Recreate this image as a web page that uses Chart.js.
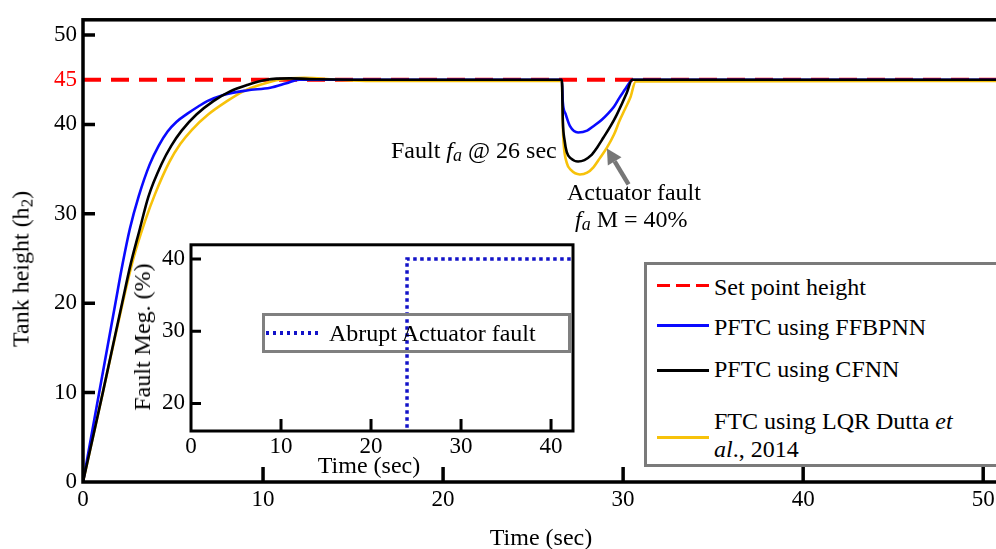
<!DOCTYPE html>
<html>
<head>
<meta charset="utf-8">
<script src="https://cdn.jsdelivr.net/npm/chart.js@4.4.0/dist/chart.umd.min.js"></script>
<style>
  html, body { margin: 0; padding: 0; background: #fff; overflow: hidden; }
  #wrap { position: relative; width: 996px; height: 549px; overflow: hidden; font-family: 'Liberation Serif', 'Times New Roman', serif; }
  canvas { position: absolute; }
  #main { left: 0; top: 0; }
  #inset { left: 120px; top: 225px; }
  .t { position: absolute; font-size: 24px; line-height: 24px; white-space: nowrap; color: #000; }
  .it { font-style: italic; }
  .sb { font-size: 18px; position: relative; top: 3px; font-style: italic; }
  .box { position: absolute; box-sizing: border-box; }
  .smp { position: absolute; height: 3px; }
</style>
</head>
<body>
<div id="wrap">
  <canvas id="main" width="1010" height="549"></canvas>
  <canvas id="inset" width="470" height="250"></canvas>

  <!-- axis titles -->
  <div class="t" style="left:22px; top:269px; transform: translate(-50%,-50%) rotate(-90deg);">Tank height (h<span style="font-size:17px; position:relative; top:4px;">2</span>)</div>
  <div class="t" style="left:541px; top:537px; transform: translate(-50%,-50%);">Time (sec)</div>
  <div class="t" style="left:142px; top:337px; transform: translate(-50%,-50%) rotate(-90deg);">Fault Meg. (%)</div>
  <div class="t" style="left:369px; top:465px; transform: translate(-50%,-50%);">Time (sec)</div>

  <!-- annotations -->
  <div class="t" style="left:391px; top:138px;">Fault <span class="it">f</span><span class="sb">a</span> @ 26 sec</div>
  <div class="t" style="left:567px; top:180px;">Actuator fault</div>
  <div class="t" style="left:575px; top:207px;"><span class="it">f</span><span class="sb">a</span> M = 40%</div>

  <!-- inset legend -->
  <div class="box" style="left:262px; top:313px; width:309px; height:40px; border:3px solid #808080;"></div>
  <div class="smp" style="left:266px; top:331px; width:54px; height:3.5px; background: repeating-linear-gradient(to right, #1212c8 0 3.5px, transparent 3.5px 7px);"></div>
  <div class="t" style="left:329px; top:321px;">Abrupt Actuator fault</div>

  <!-- main legend -->
  <div class="box" style="left:644px; top:262px; width:400px; height:205px; border:3px solid #7a7a7a; background:#fff;"></div>
  <div class="smp" style="left:657px; top:284px; width:52px; background: repeating-linear-gradient(to right, #ff0000 0 13px, transparent 13px 19.5px);"></div>
  <div class="t" style="left:714px; top:275px;">Set point height</div>
  <div class="smp" style="left:657px; top:324px; width:52px; background:#0a0aff;"></div>
  <div class="t" style="left:714px; top:315px;">PFTC using FFBPNN</div>
  <div class="smp" style="left:657px; top:369px; width:52px; background:#000;"></div>
  <div class="t" style="left:714px; top:357px;">PFTC using CFNN</div>
  <div class="smp" style="left:657px; top:436px; width:52px; background:#f7c20a;"></div>
  <div class="t" style="left:714px; top:409px;">FTC using LQR Dutta <span class="it">et</span></div>
  <div class="t" style="left:714px; top:437px;"><span class="it">al</span>., 2014</div>
</div>

<script>
// main plot: tank height h2 vs time
const xTicks = [0, 10, 20, 30, 40, 50];
const yTicks = [0, 10, 20, 30, 40, 45, 50];

const setTime = [0, 51.1];
const setHeight = [45, 45];

const ffbpnnTime = [0, 0.9, 1.8, 2.2, 2.6, 3.1, 3.7, 4.2, 4.7, 5.2, 5.8, 6.4, 6.9, 7.8, 9.1, 10.4, 11.3, 12.0,
  26.6, 26.65, 26.8, 27.05, 27.5, 28.0, 28.35, 28.8, 29.2, 29.5, 29.8, 30.1, 30.4, 30.5, 51.1];
const ffbpnnHeight = [0, 10, 20, 24.4, 28.3, 32.0, 35.5, 37.6, 39.2, 40.3, 41.2, 42.0, 42.6, 43.3, 43.8, 44.1, 44.6, 45,
  45, 42.5, 41.2, 39.8, 39.1, 39.3, 39.8, 40.5, 41.3, 42.0, 43.0, 43.9, 44.8, 45, 45];

const cfnnTime = [0, 1.1, 2.17, 2.65, 3.13, 3.63, 4.37, 4.9, 5.48, 6.3, 7.24, 8.17, 9.1, 10.2, 11.5, 13, 15,
  26.6, 26.65, 26.75, 26.87, 27.1, 27.5, 27.85, 28.2, 28.55, 28.9, 29.3, 29.65, 30.2, 30.5, 51.1];
const cfnnHeight = [0, 10, 20, 24.4, 28.1, 31.9, 35.6, 37.6, 39.3, 41.1, 42.6, 43.7, 44.4, 45.0, 45.15, 45.05, 45,
  45, 40.5, 38.2, 36.9, 36.2, 35.85, 36.0, 36.5, 37.4, 38.5, 39.8, 41.1, 43.5, 45, 45];

const lqrTime = [0, 1.1, 2.2, 2.8, 3.45, 4.0, 4.8, 5.4, 6.05, 6.95, 8.0, 8.9, 9.8, 10.9, 12.3, 14, 16,
  26.6, 26.65, 26.7, 26.87, 27.1, 27.6, 28.0, 28.35, 28.7, 29.1, 29.5, 29.8, 30.1, 30.4, 30.7, 51.1];
const lqrHeight = [0, 10, 20, 25.0, 29.2, 32.2, 35.8, 37.8, 39.4, 41.1, 42.6, 43.7, 44.4, 45.0, 45.2, 45.0, 44.85,
  44.85, 40.0, 37.8, 35.7, 34.9, 34.4, 34.6, 35.2, 36.2, 37.4, 38.9, 40.4, 41.7, 43.0, 44.8, 44.85];

// inset: fault magnitude
const insetXTicks = [0, 10, 20, 30, 40];
const insetYTicks = [20, 30, 40];
const faultTime = [0, 24, 24, 43];
const faultMag = [0, 0, 40, 40];

// arrow pointing at the dip (data coords)
const arrowFrom = [30.3, 33.3];
const arrowTo = [29.1, 37.3];

const pts = (xs, ys) => xs.map((x, i) => ({ x: x, y: ys[i] }));
const serif = "'Liberation Serif', 'Times New Roman', serif";
const tickFont = { family: serif, size: 23 };
Chart.defaults.font.family = serif;

// box + inward tick marks
const frame = {
  id: 'frame',
  afterDatasetsDraw(chart, args, o) {
    const { ctx, chartArea: a, scales: { x, y } } = chart;
    ctx.save();
    ctx.strokeStyle = '#000';
    ctx.lineWidth = o.width;
    ctx.lineCap = 'square';
    ctx.strokeRect(a.left, a.top, a.right - a.left, a.bottom - a.top);
    ctx.beginPath();
    o.xMarks.forEach(v => {
      const px = x.getPixelForValue(v);
      ctx.moveTo(px, a.bottom);
      ctx.lineTo(px, a.bottom - o.xLen);
    });
    o.yMarks.forEach(v => {
      const py = y.getPixelForValue(v);
      ctx.moveTo(a.left, py);
      ctx.lineTo(a.left + o.yLen, py);
    });
    ctx.lineCap = 'butt';
    ctx.stroke();
    ctx.restore();
  }
};

const arrow = {
  id: 'arrow',
  afterDatasetsDraw(chart) {
    const { ctx, scales: { x, y } } = chart;
    const x0 = x.getPixelForValue(arrowFrom[0]), y0 = y.getPixelForValue(arrowFrom[1]);
    const x1 = x.getPixelForValue(arrowTo[0]), y1 = y.getPixelForValue(arrowTo[1]);
    const ang = Math.atan2(y1 - y0, x1 - x0);
    const hl = 15, hw = 8;
    const bx = x1 - hl * Math.cos(ang), by = y1 - hl * Math.sin(ang);
    ctx.save();
    ctx.strokeStyle = '#777';
    ctx.fillStyle = '#777';
    ctx.lineWidth = 4.5;
    ctx.beginPath();
    ctx.moveTo(x0, y0);
    ctx.lineTo(bx, by);
    ctx.stroke();
    ctx.beginPath();
    ctx.moveTo(x1, y1);
    ctx.lineTo(bx + hw * Math.sin(ang), by - hw * Math.cos(ang));
    ctx.lineTo(bx - hw * Math.sin(ang), by + hw * Math.cos(ang));
    ctx.closePath();
    ctx.fill();
    ctx.restore();
  }
};

const line = (data, color, width, order, dash) => ({
  data: data,
  borderColor: color,
  borderWidth: width,
  borderDash: dash || [],
  pointRadius: 0,
  fill: false,
  cubicInterpolationMode: 'monotone',
  order: order
});

function draw() {
  new Chart(document.getElementById('main'), {
    type: 'line',
    data: {
      datasets: [
        line(pts(cfnnTime, cfnnHeight), '#000000', 2.6, 0),
        line(pts(ffbpnnTime, ffbpnnHeight), '#0a0aff', 2.6, 1),
        line(pts(lqrTime, lqrHeight), '#f7c20a', 2.6, 2),
        line(pts(setTime, setHeight), '#ff0000', 4, 3, [18, 10])
      ]
    },
    options: {
      responsive: false,
      animation: false,
      devicePixelRatio: 1,
      layout: { padding: { top: 14, right: 7, left: 0, bottom: 0 } },
      plugins: {
        legend: { display: false },
        tooltip: { enabled: false },
        frame: { width: 3.5, xMarks: [10, 20, 30, 40, 50], yMarks: [10, 20, 30, 40, 50], xLen: 15, yLen: 12 }
      },
      scales: {
        x: {
          type: 'linear', min: 0, max: 51.1,
          grid: { display: false, drawTicks: false },
          border: { display: false },
          afterBuildTicks: s => { s.ticks = xTicks.map(v => ({ value: v })); },
          afterFit: s => { s.height = 67; },
          ticks: { font: tickFont, color: '#000', padding: 4, autoSkip: false, maxRotation: 0 }
        },
        y: {
          type: 'linear', min: 0, max: 51.7,
          grid: { display: false, drawTicks: false },
          border: { display: false },
          afterBuildTicks: s => { s.ticks = yTicks.map(v => ({ value: v })); },
          afterFit: s => { s.width = 83; },
          ticks: {
            font: tickFont, padding: 6, autoSkip: false,
            color: c => (c.tick && c.tick.value === 45 ? '#ff0000' : '#000')
          }
        }
      }
    },
    plugins: [frame, arrow]
  });

  new Chart(document.getElementById('inset'), {
    type: 'line',
    data: {
      datasets: [{
        data: pts(faultTime, faultMag),
        borderColor: '#1212c8',
        borderWidth: 3.5,
        borderDash: [3.5, 3.5],
        pointRadius: 0,
        fill: false,
        tension: 0
      }]
    },
    options: {
      responsive: false,
      animation: false,
      devicePixelRatio: 1,
      layout: { padding: { top: 10, right: 17, left: 0, bottom: 0 } },
      plugins: {
        legend: { display: false },
        tooltip: { enabled: false },
        frame: { width: 3, xMarks: [10, 20, 30, 40], yMarks: [20, 30, 40], xLen: 12, yLen: 10 }
      },
      scales: {
        x: {
          type: 'linear', min: 0, max: 42.44,
          grid: { display: false, drawTicks: false },
          border: { display: false },
          afterBuildTicks: s => { s.ticks = insetXTicks.map(v => ({ value: v })); },
          afterFit: s => { s.height = 44; },
          ticks: { font: tickFont, color: '#000', padding: 2, autoSkip: false, maxRotation: 0 }
        },
        y: {
          type: 'linear', min: 16.18, max: 41.97,
          grid: { display: false, drawTicks: false },
          border: { display: false },
          afterBuildTicks: s => { s.ticks = insetYTicks.map(v => ({ value: v })); },
          afterFit: s => { s.width = 71; },
          ticks: { font: tickFont, color: '#000', padding: 6, autoSkip: false }
        }
      }
    },
    plugins: [frame]
  });
}

if (document.fonts && document.fonts.load) {
  document.fonts.load("23px 'Liberation Serif'").then(draw, draw);
} else {
  draw();
}
</script>
</body>
</html>
